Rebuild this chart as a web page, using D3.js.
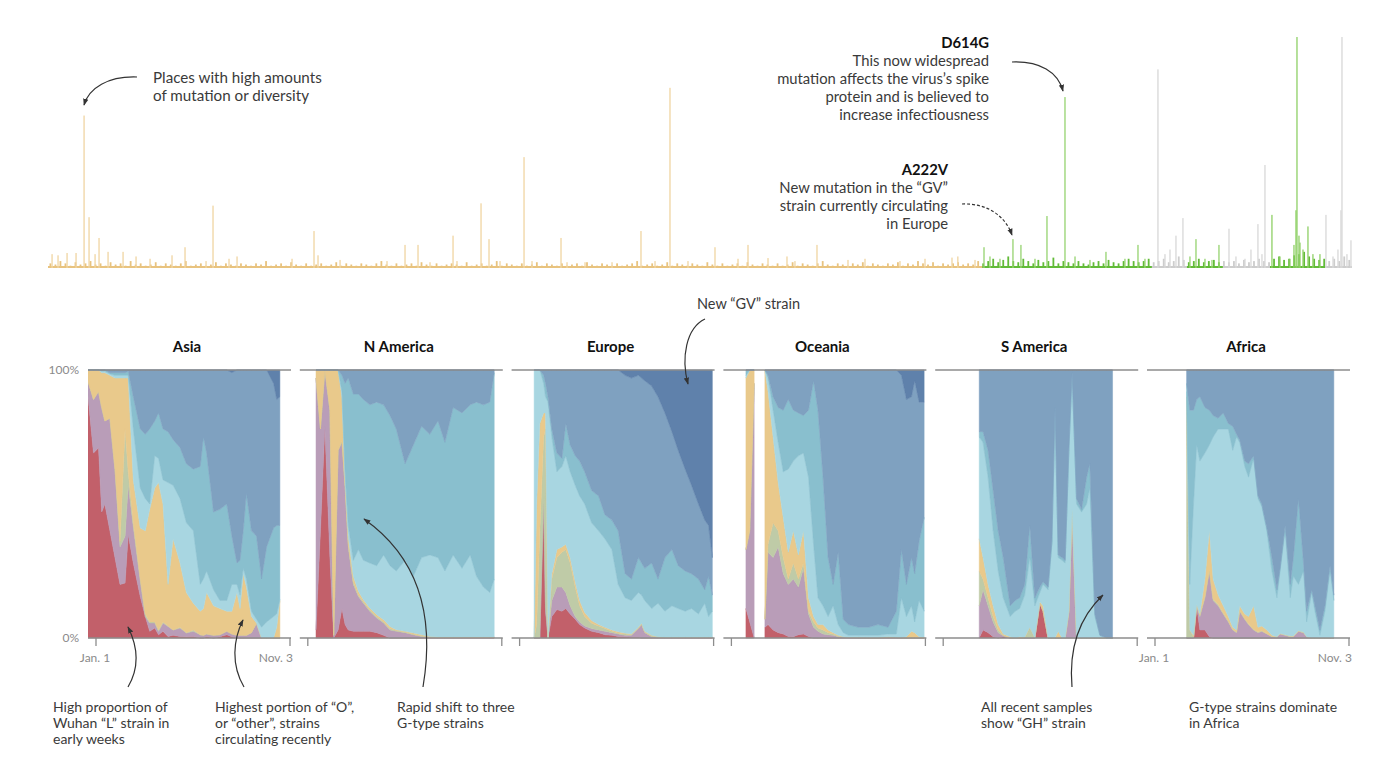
<!DOCTYPE html>
<html><head><meta charset="utf-8">
<script src="https://cdn.jsdelivr.net/npm/d3@7"></script>
<style>
html,body{margin:0;padding:0;background:#fff;}
svg{display:block;font-family:Lato,"Open Sans",sans-serif;}
</style></head><body>
<svg id="chart" width="1400" height="775"></svg>
<script>
// ---------------- DATA ----------------
// Genome mutation chart (position in nucleotides, value = relative diversity, 100 = max)
const GENOME_LENGTH = 29903;
const geneSegStart = [0, 21440, 25315, 26117, 26943, 28021, 29282];
const geneSegKind  = ["orf1ab", "spike", "other", "spike2", "other", "nucleo", "other"];
const noiseBinSize = 115;
const noiseValues = [
 2,1.5,3,2,1,2.5,1.5,2,3,1.5, 2,1,2.5,1.5,2,1,3,1.5,2,1,
 1.5,2.5,1,2,1.5,1,2,3,1,1.5, 2,1,1.5,2.5,1,2,1.5,1,2,1.5,
 1,2,1.5,3,1,1.5,2,1,2.5,1.5, 1,2,1,1.5,2,1,1.5,2.5,1,2,
 1.5,1,2,1.5,1,2,3,1.5,1,2, 1,1.5,2,1,2.5,1.5,1,2,1,1.5,
 2,1.5,1,2.5,1,1.5,2,1,1.5,3, 1,2,1.5,1,2,1,1.5,2.5,1,2,
 1.5,1,2,1,1.5,2,1,2.5,1.5,1, 2,1.5,1,2,1,1.5,2,3,1,1.5,
 2,1,1.5,2.5,1,2,1.5,1,2,1.5, 1,2.5,1.5,1,2,1,1.5,2,1,2.5,
 1.5,1,2,1.5,1,2,1,1.5,2.5,1, 2,1.5,1,2,3,1.5,1,2,1.5,1,
 2,1.5,2.5,1,2,1.5,1,2,1.5,2.5, 1,2,1.5,3,2,1.5,2.5,1,2,1.5,
 2,2.5,1.5,2,1.5,3,2,
 3,4,2.5,3.5,5,3,2.5,4,3,2,3.5,2.5,3,4.5,2,3,2.5,2,3,2,1.5,2.5,3,2,3.5,2.5,2,3,4,3,2.5,3,4,2.5,
 3,4,2.5,3,5,3.5,2.5,
 3,4,2.5,3,3.5,2.5,3,
 2.5,3,2,3.5,2.5,3,4,3,2.5,
 4,5,3.5,4,5.5,6,7,5,4,3.5,4,
 3,4,3,5,3.5
];
const spikePos = [
 826,940,1169,1376,3141,3783,6099,8186,8484,9287,9929,10112,10915,11763,13597,14262,15294,16051,17633,
 92,229,436,642,1078,1720,2018,2339,2843,3623,4150,4334,5595,6191,6696,7773,8759,9378,10364,11098,11901,
 12314,12933,13919,14675,15822,16510,16945,17128,18344,18734,19536,20110,20729,20863,21257,
 21463,21600,21829,22127,22310,22632,22907,23320,23550,23893,24260,24695,24994,25154,
 25452,25613,25728,25865,26025,
 26186,26324,26530,26691,26851,
 27081,27241,27448,27585,27745,27837,27906,
 28066,28250,28479,28571,28617,28640,28686,28709,28778,28892,29006,29167,
 29305,29466,29580,29648,29672,29786,29878
];
const spikeVal = [
 66,22,13,7,9,27,16,10,10,14,28,12.5,48,13,16,78,9,10,10,
 6,5.5,6.5,6.5,6,7,5,4,5.5,3,4,5,4,5.5,3.5,3,2.5,3,3,3,2.5,
 2.5,2.5,3,3,4,4.3,5,3,3.5,4,3,4,4.5,5,3.5,
 9,5,4,12.5,10,4,22.5,74,5,3.5,7,4,10,4,
 86,6,8,14,21.6,
 5,12.5,4,3.5,10,
 17,5,4,8,19,6,44.6,
 23,5,4,10,25,100,14,11,8,18,6,6,
 23,5,8,25,100,6,12
];

// Clade shares by region: rows = [day since Jan 1 2020, cumulative % top of L, V, S, O, G, GR, GH]; GV fills to 100
const clades = ["L","V","S","O","G","GR","GH","GV"];
const regionNames = ["Asia","N America","Europe","Oceania","S America","Africa"];
const asiaRows = [
 [-13,91,96,96,100,100,100,100],[-4,69,89,89,100,100,100,100],[4,71,92,92,100,100,100,100],
 [9,47,86,86,99,99.5,100,100],[14,50,81,81,99,99.5,100,100],[22,40,82,82,98,98.5,99,100],
 [30,30,63,63,97,98,99,100],[38,20,34,36,97,98,99,100],[46,20.5,38,78,97,98,99,100],
 [51,38.5,57,62,97,98,99.5,100],[59,28,41.6,43,59,78,90,100],[70,15.5,21.7,22,41,56,78,100],
 [78,8,8,9,40,52,76,100],[85,2.5,5.6,6,48,50,78,100],[93,3.7,5.6,6,56,68,81,100],
 [99,1.2,2.5,3,58,67,84,100],[106,2.5,5.6,6,50,59,78,100],[114,0.6,4.3,4.5,20,58,77,100],
 [122,1,3,3,37,57,74,100],[133,0.6,3.7,4,28,52,71,100],[143,0.5,1.9,2,17,43,65,100],
 [154,0.6,2.5,3,13,40,63,100],[165,0,1.2,1.2,10,20,64,100],[170,0,1,1,11,22,75,100],
 [175,0.6,1.5,1.5,17,25,69,100],[186,0,1,1,12,18,47,100],[196,0.5,1.2,1.2,11,14,48,100],
 [207,1.2,2.5,2.5,10,14,50,100],[215,0.5,1.5,1.5,10,20,38,99],[223,0,1,1,17,20,28,100],
 [228,0,1,1,11,16,29,100],[233,0,1,1,24,26,40,100],[238,0,1,1,19,22,54,100],
 [246,0,2,2,8,10,40,100],[254,0,5.5,5.5,5.6,7,38,100],[262,0,0,0,0,4,22,100],
 [270,0,0,0,0,6,34,100],[281,0,0,0,0,8,41,95],[286,0,0,0,4,9,42,89],[291,0,0,0,14,14.5,42,90]
];
const nAmericaRows = [
 [13,3,97,97,100,100,100,100],[20,40,78,78,100,100,100,100],[27,79,100,100,100,100,100,100],
 [35,30,85,85,100,100,100,100],[41,0,1,1,100,100,100,100],[48,3,70,70,100,100,100,100],
 [54,11,73,73.5,90,92,98,100],[59,5,56,57,59,62,95,100],[64,3,34,35,38,42,97,100],
 [72,2.5,20,21,23,29,91,100],[80,2.5,15.5,16,17.4,33,91,100],[88,2.5,13,13.5,14.3,29,89,100],
 [98,2.5,10,10.5,11.2,28,87,100],[109,2,7.5,8,8.7,27,88,100],[120,1,5.6,6,6.8,31,87,100],
 [130,0,3,3.5,4.3,27,83,100],[140,0,2.5,2.8,3.1,25,78,100],[154,0,2,2.2,2.5,29,65,100],
 [167,0,1.2,1.4,1.9,23,72,100],[180,0,0.6,0.8,1.2,30,79,100],[193,0,0.3,0.4,0.6,31,76,100],
 [206,0,0.2,0.3,0.4,30,81,100],[217,0,0.2,0.3,0.4,25,73,100],[230,0,0.2,0.3,0.4,31,86,100],
 [244,0,0.2,0.3,0.4,26,84,100],[257,0,0.2,0.3,0.4,31,87,100],[267,0,0.2,0.3,0.4,23,88,100],
 [278,0,0.2,0.3,0.4,19,87,100],[288,0,0.2,0.3,0.4,17,88,100],[295,0,0.2,0.3,0.4,22,99,100]
];
const europeRows = [
 [23,0,0,0,0,100,100,100],[27,0,0,5,50,100,100,100],[32,0,0,40,80,100,100,100],
 [38,50,53,75,84,95,98,100],[41,10,12,78,84,90,95,100],[45,0,0,0,0,88,90,100],
 [51,8,14,22,24,75,78,100],[59,10.6,19,30,33,62,69,100],[67,10,19,32,34,64,67,100],
 [73,11,17,33,35,68,80,100],[80,9,12,28,30,62,72,100],[88,7,8,19,21,57,68,100],
 [95,5,6,12,14,53,66,100],[103,3.7,4.5,8,9.5,50,62,100],[114,2.5,3.5,5.5,6.5,43,55,100],
 [125,2,3,4.5,5,40,53,100],[135,1.2,2.5,3.5,4,37,46,100],[146,1,2,2.5,3,33,44,100],
 [156,0.6,1.5,1.8,2.3,20,40,100],[167,0.5,1,1.5,1.8,15,24,98],[177,0.3,1,1.3,1.5,14,22,97],
 [188,0.3,3.5,3.7,4,17,30,98],[193,0,5,5.2,5.5,16,28,97],[198,0,2,2.2,2.5,14,26,96],
 [209,0,0.5,0.8,1,11,28,94],[219,0,0.3,0.4,0.5,13,22,90],[230,0,0.2,0.3,0.3,10,30,84],
 [241,0,0.2,0.3,0.3,12,33,77],[251,0,0.2,0.3,0.3,11,27,70],[262,0,0.2,0.3,0.3,10,25,63],
 [272,0,0.2,0.3,0.3,11,24,57],[283,0,0.2,0.3,0.3,9,22,50],[293,0,0.2,0.3,0.3,13,18,44],
 [299,0,0.2,0.3,0.3,8,23,42],[305,0,0.2,0.3,0.3,10,16,30]
];
const oceaniaRows = [
 [23,11,33,33,97,98,100,100],[29,6,40,40,100,100,100,100],[36,0,95,95,100,100,100,100],
 [44,null],
 [53,4,7,7,100,100,100,100],[58,5,32,35,92,97,98,100],[66,3,30,43,75,85,90,100],
 [74,2,34,40,58,73,86,100],[82,1.5,24,30,45,62,85,100],[90,0.6,20,22,32,63,89,100],
 [98,0.5,22,28,40,66,85,100],[106,1.2,19,22,31,68,84,100],[114,1.5,26,28,40,69,83,100],
 [122,0.6,9,10,15,60,85,100],[130,0,4,6,8,35,96,100],[137,0,2.5,3.7,5,15,85,100],
 [145,0,1.5,3,5,12,60,100],[153,0,1.2,2,3,8,30,100],[161,0,1,1.5,2,12,20,100],
 [169,0,0.5,0.7,1,5,32,100],[177,0,0.3,0.4,0.5,2,7,100],[185,0,0.2,0.3,0.3,1,5,100],
 [201,0,0,0.2,0.3,1,4,100],[217,0,0,0,0.2,1,4,100],[232,0,0,0,0.2,1,5,100],
 [248,0,0.3,0.3,0.5,1.5,4,100],[261,0,0.2,0.2,0.3,1.5,10,100],[269,0,0,0,0.2,15,33,98],
 [277,0,0,0,0.5,8,20,89],[285,0,0,0,2.5,12,30,90],[290,0,0,0,2,6,24,96],
 [297,0,0,0,0.5,14,36,88],[305,0,0,0,0.3,10,45,88]
];
const sAmericaRows = [
 [57,0,12,25,37,75,77,100],[63,3,18,22,30,73,77,100],[71,2,12,15,20,60,70,100],
 [79,0.5,6,8,12,40,55,100],[87,0,2,3,5,25,40,100],[95,0.5,0.8,1,1.5,15,30,100],
 [106,0,0,0,0.5,8,12,100],[114,0,0,0,0,10,14,100],[121,0,0,0,0.5,11,15,100],
 [129,0,0,0,0.3,16,20,100],[137,0,0,4,4,30,42,100],[145,0,0,0,0,12,15,100],
 [153,13,13,13,13.5,17,19,100],[158,10,10,10,12,20,21,100],[166,0,0,0,0,18,19,100],
 [172,0,0,0,0,35,36,100],[177,0,0,0,0,85,86,100],[182,0,0,0,2.5,30,31,100],
 [188,0,0,0,0,29,30,100],[193,0,0,0,0,28,29,100],[199,0,10,10,10,70,71,100],
 [204,0,48,48,48,98,99,100],[211,0,0,0,0,50,52,100],[219,0,0,0,0,47,48,100],
 [227,0,0,0,0,50,60,100],[232,0,0,0,0,56,65,100],[240,0,0,0,0,8,9,100],
 [248,0,0,0,0,1,1,100],[259,0,0,0,0,0,0,100],[268,0,0,0,0,0,0,100]
];
const africaRows = [
 [50,0,0,90,90,92,95,100],[55,0,0,3,3,20,85,100],[61,0,0,0.5,1,50,85,100],
 [66,12,12,12.2,12.5,72,89,100],[71,3,8,8.5,9,66,90,100],[79,3,15,15.5,22,69,86,100],
 [86,0.5,25,25.5,40,72,85,100],[92,0,14,14.5,22,75,83,100],[100,0,12,12.5,16,78,82,100],
 [108,0,9,9.3,12,78,84,100],[116,0,6,6.3,8,78,80,100],[123,0,3,3.2,4,70,79,100],
 [129,0,2,2.2,3,75,76,100],[134,0,10,10.2,12,73,74,100],[142,0,7,7.2,9,64,66,100],
 [148,0,5,5.2,8,60,65,100],[156,0,3,3.2,12,67,68,100],[163,0,2,2.2,4,52,53,100],
 [169,0,2.5,2.7,4.5,49,50,100],[177,0,1.5,1.6,3,40,41,100],[185,0,0.5,0.6,1,25,30,100],
 [193,0,0.3,0.4,0.5,15,18,100],[198,0,1.5,1.6,1.7,25,26,100],[206,0,1,1.1,1.2,40,42,100],
 [214,0,0.5,0.6,0.7,15,20,100],[219,0,0.5,0.6,0.7,23,30,100],[227,0,2.5,2.6,2.7,20,52,100],
 [235,0,2,2.1,2.2,25,28,100],[240,0,0.5,0.5,0.5,6,10,100],[248,0,0,0,0,17,18,100],
 [253,0,0,0,0,10,12,100],[261,0,0,0,0,1,3,100],[269,0,0,0,0,10,12,100],
 [277,0,0,0,0,25,27,100],[283,0,0,0,0,14,16,100]
];
const regionRows = [asiaRows, nAmericaRows, europeRows, oceaniaRows, sAmericaRows, africaRows];
const dateTickDays = [0, 307];
const dateTickLabels = ["Jan. 1", "Nov. 3"];
const yTickValues = [100, 0];
const yTickLabels = ["100%", "0%"];

// ---------------- STYLE ----------------
const cladeColor = {L:"#c2606a",V:"#b99db8",S:"#bfcba7",O:"#e9c98b",G:"#a8d6e1",GR:"#89bfce",GH:"#7fa1c0",GV:"#5f81ab"};
const segBase = {orf1ab:"#e8c37f", spike:"#62bb38", spike2:"#62bb38", nucleo:"#62bb38", other:"#cdcdcd"};
const segLight = {orf1ab:"#f0d5a2", spike:"#96d370", spike2:"#96d370", nucleo:"#8fd066", other:"#d8d8d8"};
const textCol = "#3a3a3a";

const svg = d3.select("#chart");
const defs = svg.append("defs");
defs.append("marker").attr("id","ah").attr("viewBox","0 0 10 10").attr("refX",9).attr("refY",5)
  .attr("markerWidth",7).attr("markerHeight",7).attr("markerUnits","userSpaceOnUse").attr("orient","auto")
  .append("path").attr("d","M0,1.2L10,5L0,8.8Z").attr("fill","#333");

// ---------------- TOP: MUTATION CHART ----------------
const xMut = d3.scaleLinear().domain([0, GENOME_LENGTH]).range([48, 1352]);
const yMut = d3.scaleLinear().domain([0, 100]).range([268, 37]);
const segOf = p => geneSegKind[Math.max(0, d3.bisectRight(geneSegStart, p) - 1)];
const gTop = svg.append("g");

gTop.selectAll("rect.base").data(geneSegStart).join("rect")
  .attr("x", (s) => xMut(s))
  .attr("width", (s,i) => xMut(i < geneSegStart.length-1 ? geneSegStart[i+1] : GENOME_LENGTH) - xMut(s))
  .attr("y", yMut(0) - 2).attr("height", 2)
  .attr("fill", (s,i) => segBase[geneSegKind[i]]);

gTop.selectAll("rect.noise").data(noiseValues).join("rect")
  .attr("x", (v,i) => xMut(i*noiseBinSize + noiseBinSize/2) - 1)
  .attr("width", 1.8)
  .attr("y", v => yMut(v)).attr("height", v => yMut(0) - yMut(v))
  .attr("fill", (v,i) => segBase[segOf(i*noiseBinSize + noiseBinSize/2)]);

gTop.selectAll("rect.spike").data(spikePos).join("rect")
  .attr("x", p => xMut(p) - 0.6).attr("width", 1.3)
  .attr("y", (p,i) => yMut(spikeVal[i])).attr("height", (p,i) => yMut(0) - yMut(spikeVal[i]))
  .attr("fill", p => segLight[segOf(p)]);

// ---------------- BOTTOM: REGION PANELS ----------------
const yP = d3.scaleLinear().domain([0, 100]).range([638, 370]);
const dayToDate = d => new Date(Date.UTC(2020,0,1) + d*864e5);
const panelLeft = i => 88 + i*211.8;
const panelW = 203;

regionNames.forEach((name, i) => {
  const left = panelLeft(i);
  const x = d3.scaleUtc().domain([dayToDate(dateTickDays[0]), dayToDate(dateTickDays[1])]).range([left+8, left+202]);
  const shares = regionRows[i].map(r => {
    const o = {date: dayToDate(r[0]), gap: r[1] === null};
    if (o.gap) { clades.forEach(k => o[k] = 0); return o; }
    const cum = r.slice(1).concat([100]);
    let prev = 0;
    clades.forEach((k,j) => { const c = Math.max(prev, cum[j]); o[k] = c - prev; prev = c; });
    return o;
  });
  const series = d3.stack().keys(clades)(shares);
  const area = d3.area().defined(d => !d.data.gap)
    .x(d => x(d.data.date)).y0(d => yP(d[0])).y1(d => yP(d[1]));
  const cid = "clip" + i;
  defs.append("clipPath").attr("id", cid).append("rect")
    .attr("x", left).attr("y", 369).attr("width", panelW).attr("height", 270);
  const g = svg.append("g").attr("clip-path", `url(#${cid})`);
  g.selectAll("path").data(series).join("path")
    .attr("d", area).attr("fill", s => cladeColor[s.key])
    .attr("stroke", s => cladeColor[s.key]).attr("stroke-width", 0.5);

  yTickValues.forEach(v => {
    svg.append("line").attr("x1", left).attr("x2", left + panelW)
      .attr("y1", yP(v)).attr("y2", yP(v)).attr("stroke", "#8d8d8d").attr("stroke-width", 1.6);
  });
  dateTickDays.forEach((d, k) => {
    const tx = x(dayToDate(d));
    svg.append("line").attr("x1", tx).attr("x2", tx).attr("y1", yP(0)).attr("y2", yP(0) + 8)
      .attr("stroke", "#8d8d8d").attr("stroke-width", 1.3);
    if (i === 0 || i === regionNames.length - 1) {
      svg.append("text").attr("x", k === 0 ? tx - 1 : tx + 3).attr("y", 662)
        .attr("text-anchor", k === 0 ? "middle" : "end")
        .attr("font-size", 12).attr("fill", "#8a8a8a").text(dateTickLabels[k]);
    }
  });
  svg.append("text").attr("x", left + 99).attr("y", 352).attr("text-anchor", "middle")
    .attr("font-size", 15).attr("font-weight", 700).attr("fill", "#111").text(name);
});

yTickValues.forEach((v, k) => {
  svg.append("text").attr("x", 79).attr("y", yP(v) + 4).attr("text-anchor", "end")
    .attr("font-size", 12).attr("fill", "#8a8a8a").text(yTickLabels[k]);
});

// ---------------- ANNOTATIONS ----------------
const notes = [
  {x:153, y:83, lh:18, fs:15.2, anchor:"start", lines:["Places with high amounts","of mutation or diversity"]},
  {x:989, y:48, lh:18, fs:14.8, anchor:"end", bold:"D614G", lines:["This now widespread","mutation affects the virus’s spike","protein and is believed to","increase infectiousness"]},
  {x:948, y:175, lh:18, fs:14.8, anchor:"end", bold:"A222V", lines:["New mutation in the “GV”","strain currently circulating","in Europe"]},
  {x:697, y:309, lh:18, fs:14.5, anchor:"start", lines:["New “GV” strain"]},
  {x:53, y:712, lh:16.2, fs:14, anchor:"start", lines:["High proportion of","Wuhan “L” strain in","early weeks"]},
  {x:215, y:712, lh:16.2, fs:14, anchor:"start", lines:["Highest portion of “O”,","or “other”, strains","circulating recently"]},
  {x:397, y:712, lh:16.2, fs:14, anchor:"start", lines:["Rapid shift to three","G-type strains"]},
  {x:981, y:712, lh:16.2, fs:14, anchor:"start", lines:["All recent samples","show “GH” strain"]},
  {x:1189, y:712, lh:16.2, fs:14, anchor:"start", lines:["G-type strains dominate","in Africa"]}
];
notes.forEach(n => {
  const t = svg.append("text").attr("text-anchor", n.anchor).attr("font-size", n.fs).attr("fill", textCol);
  let row = 0;
  if (n.bold) {
    t.append("tspan").attr("x", n.x).attr("y", n.y).attr("font-weight", 700).attr("fill", "#111").text(n.bold);
    row = 1;
  }
  n.lines.forEach((l, j) => t.append("tspan").attr("x", n.x).attr("y", n.y + (j + row) * n.lh).text(l));
});

const arrows = [
  {d:"M137,77 C108,76 89,88 84,105"},
  {d:"M1012,62 C1040,61 1058,72 1063,91"},
  {d:"M962,204 C986,203 1005,215 1012,235", dash:"3,2"},
  {d:"M128,687 C141,665 137,645 128,627"},
  {d:"M244,687 C231,665 233,640 243,620"},
  {d:"M423,687 C436,610 415,555 364,519"},
  {d:"M705,319 C686,328 681,358 688,384"},
  {d:"M1072,687 C1068,640 1085,612 1103,595"}
];
svg.selectAll("path.arrow").data(arrows).join("path").attr("class","arrow")
  .attr("d", a => a.d).attr("fill", "none").attr("stroke", "#333").attr("stroke-width", 1.2)
  .attr("stroke-dasharray", a => a.dash || null).attr("marker-end", "url(#ah)");
</script></body></html>
